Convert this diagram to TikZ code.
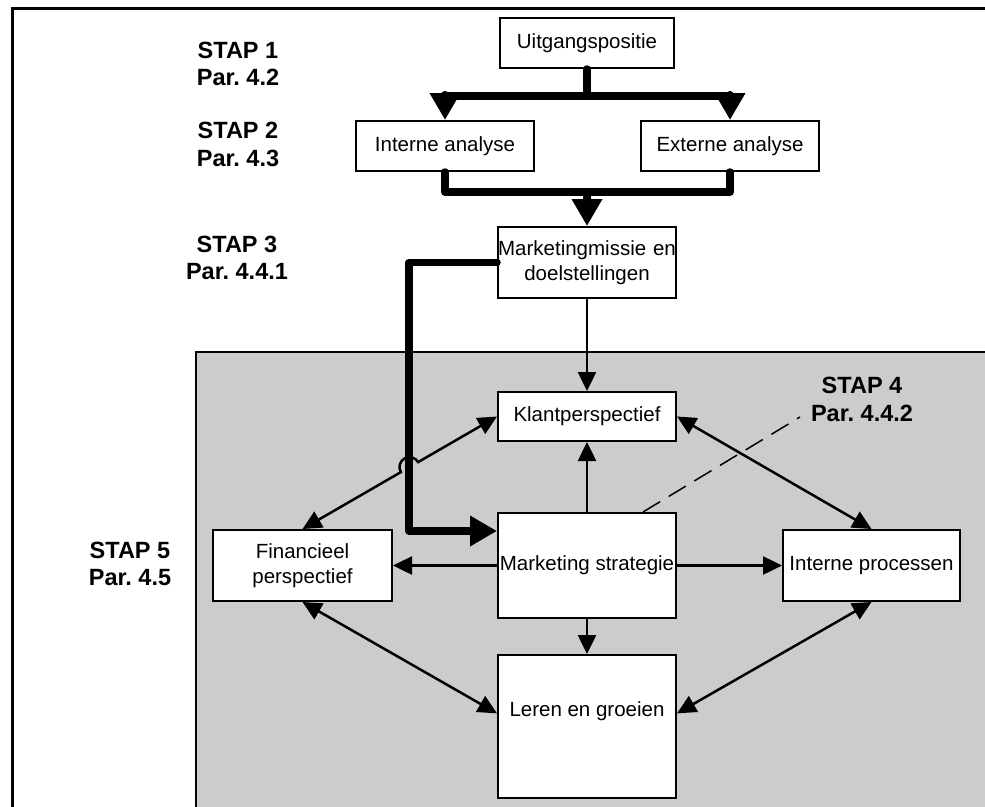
\documentclass[tikz,border=0pt]{standalone}
\usepackage{fontspec}
\setmainfont{Liberation Sans}
\usetikzlibrary{arrows.meta,calc}
\definecolor{panelgray}{HTML}{CCCCCC}
\frenchspacing
\begin{document}
\begin{tikzpicture}[x=1pt,y=1pt,
  box/.style={draw,line width=2pt,fill=white,inner sep=0pt,align=center,
    font=\fontsize{20.5}{24.5}\selectfont},
  thinline/.style={line width=2.5pt},
  thinarrow/.style={thinline,-{Triangle[length=19pt,width=18pt]}},
  dblarrow/.style={thinline,{Triangle[length=19pt,width=18pt]}-{Triangle[length=19pt,width=18pt]}},
  heavy/.style={line width=7.5pt,line cap=round,line join=round},
  heavyarrow/.style={heavy,-{Triangle[length=27pt,width=29pt]}},
  stap/.style={align=center,inner sep=0pt,
    font=\bfseries\fontsize{23.5}{27.5}\selectfont},
]
\useasboundingbox (0,0) rectangle (985,-806);
\clip (0,0) rectangle (985,-806);

% outer frame and shaded panel
\draw[line width=3pt] (12.5,-8.5) rectangle (1200,-1000);
\draw[line width=1.5pt,fill=panelgray] (196,-352) rectangle (1200,-1000);

% boxes
\node[box,minimum width=174pt,minimum height=50pt] (uit) at (587,-43) {Uitgangspositie};
\node[box,minimum width=178pt,minimum height=50pt] (int) at (445,-146) {Interne analyse};
\node[box,minimum width=178pt,minimum height=50pt] (ext) at (730,-146) {Externe analyse};
\node[box,minimum width=178pt,minimum height=71pt,text width=178pt] (mm) at (587,-262.5) {Marketingmissie en\\doelstellingen};
\node[box,minimum width=178pt,minimum height=49pt] (klant) at (587,-416.5) {Klantperspectief};
\node[box,minimum width=178pt,minimum height=105pt] (ms) at (587,-565.5) {Marketing strategie};
\node[box,minimum width=179pt,minimum height=71pt] (fin) at (302.5,-565.5) {Financieel\\perspectief};
\node[box,minimum width=177pt,minimum height=71pt] (ip) at (871.5,-565.5) {Interne processen};
\node[box,minimum width=178pt,text height=61pt,text depth=82pt,anchor=north] (leren) at (587,-654) {Leren en groeien};

% step labels
\node[stap] (s1) at (238,-64) {STAP 1\\Par. 4.2};
\node[stap] (s2) at (238,-144.5) {STAP 2\\Par. 4.3};
\node[stap] (s3) at (237,-258) {STAP 3\\Par. 4.4.1};
\node[stap] (s4) at (862,-399.5) {STAP 4\\Par. 4.4.2};
\node[stap] (s5) at (130,-564) {STAP 5\\Par. 4.5};

% heavy flow at the top
\coordinate (split) at (587,-96);
\draw[heavy] (uit.south) -- (split);
\draw[heavyarrow] (split) -| (int.north);
\draw[heavyarrow] (split) -| (ext.north);
\coordinate (merge) at (587,-192);
\draw[heavy] (int.south) |- (merge) -| (ext.south);
\draw[heavyarrow] (merge) -- (mm.north);

% heavy link from mission to strategy
\coordinate (msin) at ($(ms.north west)+(0,-19)$);
\draw[heavyarrow] (mm.west) -- ++(-88,0) |- (msin);

% thin arrows around the strategy
\draw[thinarrow] (mm.south) -- (klant.north);
\draw[thinarrow] (ms.north) -- (klant.south);
\draw[thinarrow] (ms.west) -- (fin.east);
\draw[thinarrow] (ms.east) -- (ip.west);
\draw[thinarrow] (ms.south) -- (leren.north);

% double arrows between the perspectives
\coordinate (hopc) at ($(fin.north)!0.55!(klant.west)$);
\draw[dblarrow] (fin.north) -- ($(hopc)+(210.14:10)$)
  arc[start angle=210.14,end angle=30.14,radius=10] -- (klant.west);
\draw[dblarrow] (klant.east) -- (ip.north);
\draw[dblarrow] (fin.south) -- (leren.mid west);
\draw[dblarrow] (ip.south) -- (leren.mid east);

% pointer to step 4
\coordinate (dashend) at (800,-417);
\draw[line width=1.5pt,dash pattern=on 20pt off 10pt] ($(ms.north)+(56,0)$) -- (dashend);
\end{tikzpicture}
\end{document}
